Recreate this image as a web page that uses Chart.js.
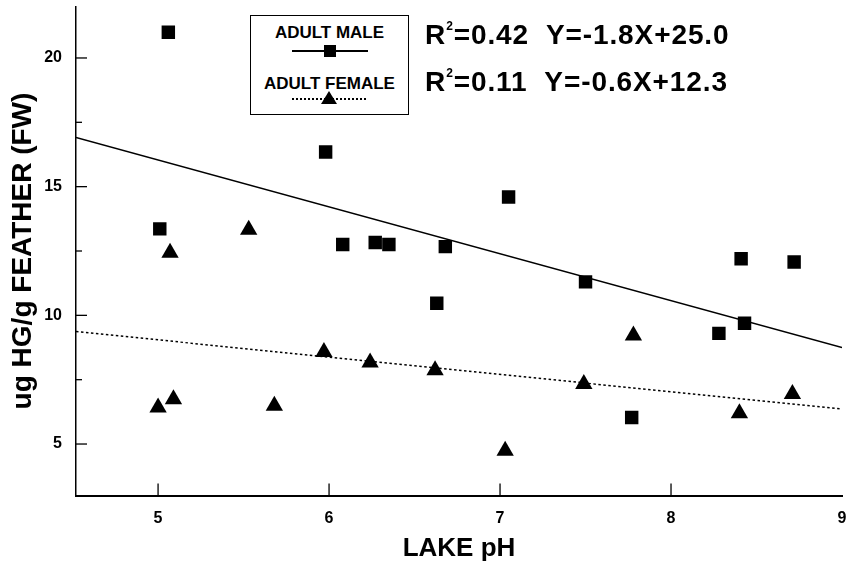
<!DOCTYPE html>
<html>
<head>
<meta charset="utf-8">
<title>Feather mercury vs lake pH</title>
<script src="https://cdn.jsdelivr.net/npm/chart.js@4.4.1/dist/chart.umd.min.js"></script>
<style>
  html, body { margin: 0; padding: 0; background: #fff; }
  body { font-family: "Liberation Sans", Arial, Helvetica, sans-serif; color: #000; }
  #wrap { position: relative; width: 846px; height: 566px; overflow: hidden; }
  #chart { position: absolute; left: 0; top: 0; }
  .legend-box {
    position: absolute; left: 250px; top: 15px; width: 159px; height: 100px;
    box-sizing: border-box; border: 1.5px solid #000; background: #fff;
  }
  .legend-label {
    position: absolute; left: 0; right: 0; text-align: center;
    font-size: 17px; font-weight: bold; line-height: 17px; white-space: nowrap;
  }
  .legend-line { position: absolute; left: 41px; width: 76px; height: 1.5px; background: #000; }
  .legend-line.dotted { background: repeating-linear-gradient(to right, #000 0 2px, transparent 2px 4px); }
  .legend-square { position: absolute; width: 12px; height: 12px; background: #000; }
  .legend-triangle {
    position: absolute; width: 0; height: 0;
    border-left: 8px solid transparent; border-right: 8px solid transparent; border-bottom: 13px solid #000;
  }
  .eq {
    position: absolute; left: 425px; font-size: 28px; font-weight: bold;
    line-height: 28px; white-space: pre; letter-spacing: 0.9px;
  }
  .eq .sup { font-size: 12px; position: relative; top: -14px; }
</style>
</head>
<body>
<div id="wrap">
  <canvas id="chart" width="846" height="566"></canvas>

  <div class="legend-box">
    <div class="legend-label" style="top:8px;">ADULT MALE</div>
    <div class="legend-line" style="top:34px;"></div>
    <div class="legend-square" style="left:73px;top:29px;"></div>
    <div class="legend-label" style="top:59px;">ADULT FEMALE</div>
    <div class="legend-line dotted" style="top:82px;"></div>
    <div class="legend-triangle" style="left:70px;top:75px;"></div>
  </div>

  <div class="eq" style="top:21px;">R<span class="sup">2</span>=0.42  Y=-1.8X+25.0</div>
  <div class="eq" style="top:68px;">R<span class="sup">2</span>=0.11  Y=-0.6X+12.3</div>
</div>

<script>
  // values
  var maleX = [5.06, 5.01, 5.98, 6.08, 6.27, 6.35, 6.68, 6.63, 7.05, 7.50, 7.77, 8.28, 8.41, 8.43, 8.72];
  var maleY = [21.0, 13.36, 16.35, 12.75, 12.83, 12.75, 12.67, 10.47, 14.6, 11.3, 6.03, 9.3, 12.2, 9.69, 12.07];

  var femaleX = [5.00, 5.07, 5.09, 5.53, 5.68, 5.97, 6.24, 6.62, 7.03, 7.49, 7.78, 8.40, 8.71];
  var femaleY = [6.42, 12.43, 6.74, 13.33, 6.49, 8.58, 8.17, 7.87, 4.74, 7.33, 9.22, 6.2, 6.94];

  // regression lines, ends at the axis limits
  var maleFitX = [4.52, 9];
  var maleFitY = [16.91, 8.75];
  var femaleFitX = [4.52, 9];
  var femaleFitY = [9.37, 6.36];

  var xTicks = [5, 6, 7, 8, 9];
  var yTicks = [5, 7.5, 10, 12.5, 15, 17.5, 20];
  var yLabeled = [5, 10, 15, 20];

  function toPoints(xs, ys) {
    return xs.map(function (x, i) { return { x: x, y: ys[i] }; });
  }

  function noPadding() {
    return { left: 0, top: 0, right: 0, bottom: 0 };
  }

  var fontFamily = '"Liberation Sans", Arial, Helvetica, sans-serif';
  Chart.defaults.font.family = fontFamily;
  Chart.defaults.color = "#000";

  // tick marks point into the plot, majors longer than minors
  var insideTicks = {
    id: "insideTicks",
    afterDraw: function (chart) {
      var ctx = chart.ctx;
      var area = chart.chartArea;
      var xs = chart.scales.x;
      var ys = chart.scales.y;
      ctx.save();
      ctx.strokeStyle = "#000";
      ctx.lineWidth = 1.3;
      ys.ticks.forEach(function (t) {
        var py = ys.getPixelForValue(t.value);
        var len = yLabeled.indexOf(t.value) >= 0 ? 11 : 6;
        ctx.beginPath();
        ctx.moveTo(area.left, py);
        ctx.lineTo(area.left + len, py);
        ctx.stroke();
      });
      xs.ticks.forEach(function (t) {
        if (t.value >= xs.max) return;
        var px = xs.getPixelForValue(t.value);
        ctx.beginPath();
        ctx.moveTo(px, area.bottom);
        ctx.lineTo(px, area.bottom - 12);
        ctx.stroke();
      });
      ctx.restore();
    }
  };

  new Chart(document.getElementById("chart"), {
    type: "scatter",
    data: {
      datasets: [
        {
          label: "ADULT MALE fit",
          data: toPoints(maleFitX, maleFitY),
          showLine: true,
          borderColor: "#000",
          borderWidth: 1.3,
          pointRadius: 0
        },
        {
          label: "ADULT FEMALE fit",
          data: toPoints(femaleFitX, femaleFitY),
          showLine: true,
          borderColor: "#000",
          borderWidth: 1.5,
          borderDash: [2.5, 2.5],
          pointRadius: 0
        },
        {
          label: "ADULT MALE",
          data: toPoints(maleX, maleY),
          pointStyle: "rect",
          pointRadius: 9.5,
          pointBackgroundColor: "#000",
          pointBorderWidth: 0
        },
        {
          label: "ADULT FEMALE",
          data: toPoints(femaleX, femaleY),
          pointStyle: "triangle",
          pointRadius: 10,
          pointBackgroundColor: "#000",
          pointBorderWidth: 0
        }
      ]
    },
    options: {
      responsive: false,
      animation: false,
      devicePixelRatio: 1,
      layout: { autoPadding: false, padding: { top: 6.5, right: 4, left: 0, bottom: 0 } },
      plugins: {
        legend: { display: false },
        tooltip: { enabled: false }
      },
      scales: {
        x: {
          type: "linear",
          min: 4.52,
          max: 9,
          afterBuildTicks: function (scale) {
            scale.ticks = xTicks.map(function (v) { return { value: v }; });
          },
          afterFit: function (scale) {
            scale.height = 70.5;
            scale.paddingLeft = 0;
            scale.paddingRight = 0;
            scale.getPadding = noPadding;
          },
          grid: { drawOnChartArea: false, drawTicks: false },
          border: { display: true, color: "#000", width: 2 },
          ticks: {
            autoSkip: false,
            maxRotation: 0,
            padding: 13,
            font: { size: 16, weight: "bold" },
            callback: function (v) { return String(v); }
          },
          title: {
            display: true,
            text: "LAKE pH",
            font: { size: 26, weight: "bold" },
            padding: { top: 0, bottom: 2 }
          }
        },
        y: {
          type: "linear",
          min: 3,
          max: 22,
          afterBuildTicks: function (scale) {
            scale.ticks = yTicks.map(function (v) { return { value: v }; });
          },
          afterFit: function (scale) {
            scale.width = 76;
            scale.paddingTop = 0;
            scale.paddingBottom = 0;
            scale.getPadding = noPadding;
          },
          grid: { drawOnChartArea: false, drawTicks: false },
          border: { display: true, color: "#000", width: 1.5 },
          ticks: {
            autoSkip: false,
            padding: 14,
            font: { size: 16, weight: "bold" },
            callback: function (v) { return yLabeled.indexOf(v) >= 0 ? String(v) : ""; }
          },
          title: {
            display: true,
            text: "ug HG/g FEATHER (FW)",
            font: { size: 28, weight: "bold" },
            padding: { top: 6, bottom: 0 }
          }
        }
      }
    },
    plugins: [insideTicks]
  });
</script>
</body>
</html>
